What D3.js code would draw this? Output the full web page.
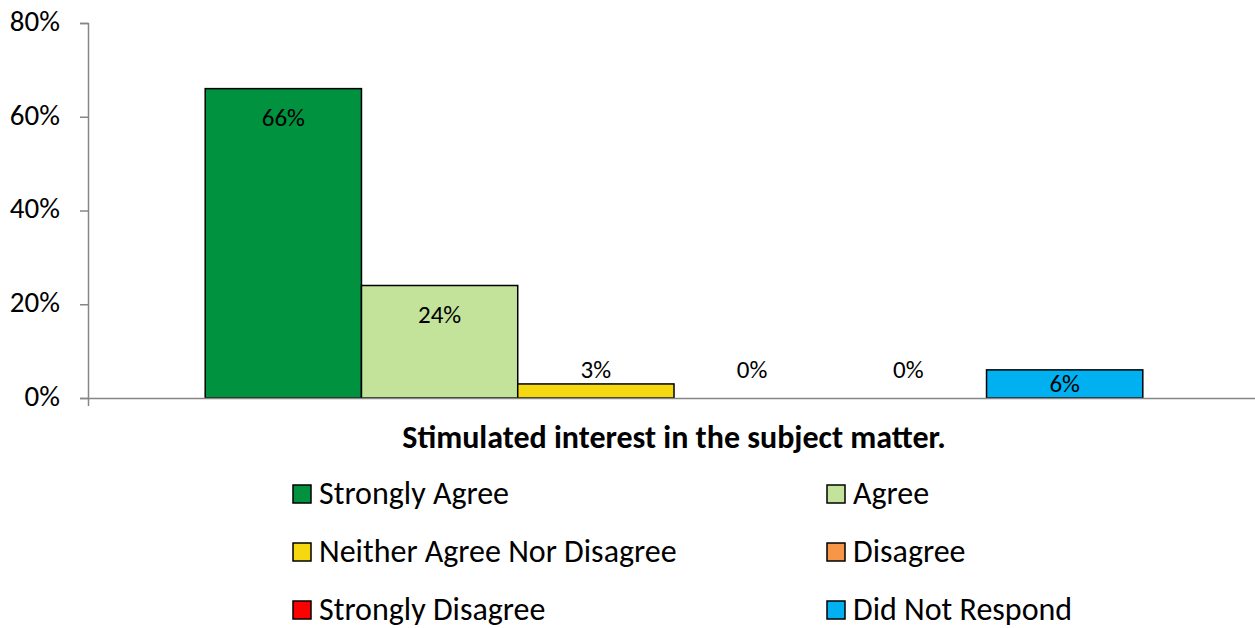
<!DOCTYPE html>
<html><head><meta charset="utf-8">
<script src="https://cdn.jsdelivr.net/npm/d3@7"></script>
<style>
html,body{margin:0;padding:0;background:#fff;}
text{font-family:Carlito,Calibri,"Open Sans",sans-serif;fill:#000;}
</style></head>
<body><svg id="c" width="1255" height="628"></svg>
<script>
const groupLabel = "Stimulated interest in the subject matter.";
const categories = ["Strongly Agree","Agree","Neither Agree Nor Disagree","Disagree","Strongly Disagree","Did Not Respond"];
const values = [0.66, 0.24, 0.03, 0.00, 0.00, 0.06];
const colors = ["#00923F","#C3E39B","#F5D80F","#F79646","#FF0000","#00B0F0"];
const yTicks = [0, 0.2, 0.4, 0.6, 0.8];

(function () {
const svg = d3.select("#c");
const mLeft = 88, mRight = 1260, mTop = 23, mBottom = 398;

const y = d3.scaleLinear().domain([0, 0.8]).range([mBottom, mTop]);
const x0 = d3.scaleBand().domain([groupLabel]).range([mLeft, mRight]).paddingOuter(0.125).paddingInner(0);
const x1 = d3.scaleBand().domain(categories).range([0, x0.bandwidth()]);
const fmt = d3.format(".0%");

// bars
const g = svg.append("g").attr("transform", `translate(${x0(groupLabel)},0)`);
g.selectAll("rect").data(categories).join("rect")
  .attr("x", (d) => x1(d))
  .attr("y", (d, i) => y(values[i]))
  .attr("width", x1.bandwidth())
  .attr("height", (d, i) => mBottom - y(values[i]))
  .attr("fill", (d, i) => colors[i])
  .attr("stroke", "#000")
  .attr("stroke-width", (d, i) => values[i] > 0 ? 1.5 : 0);

// axes
const yAxis = d3.axisLeft(y).tickValues(yTicks).tickFormat(fmt).tickSize(8).tickPadding(20);
const ya = svg.append("g").attr("transform", `translate(${mLeft},0)`).call(yAxis);
ya.attr("font-family", null).attr("font-size", null);
ya.select(".domain").attr("stroke", "#868686").attr("stroke-width", 1.5);
ya.selectAll(".tick line").attr("stroke", "#868686").attr("stroke-width", 1.5);
ya.selectAll(".tick text").attr("font-size", 29).attr("dy", "0.25em").attr("fill", "#000");

const xAxis = d3.axisBottom(x0).tickValues([]).tickSizeOuter(8);
const xa = svg.append("g").attr("transform", `translate(0,${mBottom})`).call(xAxis);
xa.select(".domain").attr("stroke", "#868686").attr("stroke-width", 1.5);

// data labels
g.selectAll("text.lbl").data(categories).join("text")
  .attr("class", "lbl")
  .attr("x", (d) => x1(d) + x1.bandwidth() / 2)
  .attr("y", (d, i) => {
    const yt = y(values[i]);
    const h = mBottom - yt;
    if (h >= 60) return yt + 37;
    if (h >= 24) return yt + h / 2 + 8;
    return mBottom - 20;
  })
  .attr("text-anchor", "middle")
  .attr("font-size", 25)
  .text((d, i) => fmt(values[i]));

// title
svg.append("text").attr("x", x0(groupLabel) + x0.bandwidth() / 2).attr("y", 448)
  .attr("text-anchor", "middle")
  .attr("font-size", 32).attr("font-weight", "bold").text(groupLabel);

// legend
const colX = [293, 827];
const rowY = [504, 562, 620];
const lg = svg.append("g");
categories.forEach((c, i) => {
  const cx = colX[i % 2], by = rowY[Math.floor(i / 2)];
  lg.append("rect").attr("x", cx).attr("y", by - 19).attr("width", 18).attr("height", 18)
    .attr("fill", colors[i]).attr("stroke", "#000").attr("stroke-width", 1.5);
  lg.append("text").attr("x", cx + 26).attr("y", by)
    .attr("font-size", 32).text(c);
});
})();
</script></body></html>
